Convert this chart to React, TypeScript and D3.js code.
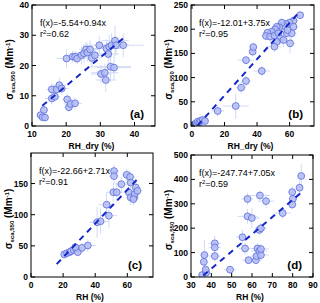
import * as d3 from 'd3'

// ---- panel (a): RH_dry vs sigma_sca,550
const aX = [12.5, 13.1, 13.8, 13.5, 15.8, 15.8, 16.7, 17.2, 18.0, 18.7, 20.1, 20.3, 20.8, 21.3, 22.6, 21.9, 22.6, 23.2, 24.5, 25.2, 25.8, 26.2, 27.0, 27.5, 28.4, 29.7, 30.2, 31.3, 31.6, 31.8, 32.3, 32.6, 33.3, 33.0, 34.0, 34.3, 34.6, 36.7]
const aY = [3.6, 2.9, 2.8, 5.3, 12.1, 9.1, 9.7, 12.1, 13.5, 12.4, 22.3, 8.8, 6.2, 7.3, 7.5, 22.9, 22.9, 22.3, 23.4, 24.0, 25.3, 24.3, 25.3, 22.5, 23.4, 26.7, 17.2, 17.6, 15.2, 25.6, 23.8, 26.2, 26.7, 19.6, 19.3, 28.2, 26.7, 26.7]
const aXErr = [1, 1, 1, 1, 1.5, 2, 1.5, 2, 2, 2, 3, 1.5, 1.5, 2, 2, 2, 2, 2, 3, 3, 2, 3, 3, 3, 3, 4, 3, 4, 3, 4, 3, 4, 5, 6, 5, 4, 3, 6]
const aYErr = [1.5, 1, 1, 1.5, 2, 2, 1.5, 2, 2.5, 2, 3, 2, 1.5, 1.5, 2, 2, 2, 2, 3, 3, 2.5, 3, 3, 3, 2, 3, 3, 3, 4, 3, 3, 4, 4, 5, 4, 5, 3, 4]

// ---- panel (b)
const bX = [0.8, 1.4, 2.5, 2.9, 3.5, 4.5, 5.3, 6.6, 8, 15.8, 26.9, 30.2, 33.2, 33.2, 37.3, 37.7, 42.9, 66.5, 62.4, 59.9, 57.8, 56.2, 55.2, 53.7, 52.1, 51.1, 49, 46.4, 45.5, 48, 50.7, 53.1, 54.2, 52.1, 50.7, 56.2, 58.3, 61.3, 60.3, 58.7, 62.4]
const bY = [2, 3.4, 5.5, 1.4, 9, 7, 11, 12.4, 10.3, 31, 41.3, 79.2, 93, 136, 153.6, 163, 113.6, 229, 217.6, 213.5, 210.7, 206.6, 213.5, 204, 205, 199.7, 194.9, 192.8, 186, 184.6, 186.6, 191.7, 181, 174, 164, 177.7, 191.7, 191.7, 170.8, 198, 205]
const bXErr = [1, 1, 1, 1, 1, 1.5, 1.5, 1.5, 2, 4, 8, 3, 3, 5, 2, 2, 5, 2, 3, 3, 3, 3, 3, 3, 3, 3, 3, 3, 3, 3, 3, 3, 3, 3, 4, 3, 3, 3, 3, 3, 3]
const bYErr = [2, 2, 3, 2, 3, 3, 4, 4, 4, 12, 26, 12, 12, 8, 10, 10, 10, 6, 8, 8, 8, 8, 10, 8, 8, 10, 8, 8, 8, 10, 10, 10, 12, 12, 12, 15, 15, 15, 20, 10, 10]

// ---- panel (c): RH vs sigma
const cX = [20.7, 22.4, 24.1, 24.9, 26.6, 28.2, 29.1, 27.6, 31.8, 35.4, 41.2, 43.3, 47.1, 48.5, 51.3, 53.4, 51.7, 51.7, 56.3, 59.6, 61.7, 62.1, 61, 62.1, 64.2, 64.6, 65.3, 66.3, 63.8]
const cY = [36.2, 38.3, 39.9, 41.5, 43.6, 45.2, 39.9, 47.9, 46.8, 50.5, 87.8, 89.4, 116, 98.4, 136, 136, 170, 162, 149, 164, 160.6, 151.6, 135.6, 127.7, 127.7, 133, 143.6, 138.3, 125]
const cXErr = [2, 2, 2, 3, 3, 3, 3, 3, 4, 5, 5, 5, 5, 5, 4, 4, 3, 3, 4, 3, 3, 3, 3, 3, 3, 3, 3, 3, 3]
const cYErr = [4, 4, 4, 5, 5, 6, 6, 6, 8, 10, 25, 20, 20, 20, 15, 15, 10, 12, 12, 10, 10, 10, 12, 12, 10, 10, 10, 10, 10]

// ---- panel (d)
const dX = [35.5, 37.5, 37.2, 36.3, 36.6, 41.7, 41.7, 41.7, 49.2, 55.3, 56.6, 58.3, 57.8, 57.8, 59.9, 61.9, 62.2, 62.7, 63.6, 64.4, 64.4, 63.9, 63.6, 64.4, 66.9, 75.1, 79.8, 80.1, 79.8, 83.4, 84.2]
const dY = [8, 18, 30, 62, 90, 138, 121.5, 85.6, 30, 163, 117, 69, 320, 248.6, 241.7, 69, 85.6, 117, 106, 90, 114.6, 334, 193, 200, 311, 262, 348, 320, 297, 366, 414]
const dXErr = [2, 2, 2, 2, 2, 3, 3, 3, 3, 3, 3, 3, 3, 5, 4, 3, 3, 4, 4, 4, 4, 5, 3, 3, 4, 4, 2, 2, 2, 2, 2]
const dYErr = [15, 20, 25, 20, 60, 30, 30, 20, 15, 30, 25, 15, 25, 30, 40, 15, 15, 20, 20, 20, 20, 20, 20, 20, 30, 25, 25, 25, 20, 30, 50]

// fit results printed on each panel
const fits = [
  { a: -5.54, b: 0.94, r2: '0.62', from: 13, to: 37 },
  { a: -12.01, b: 3.75, r2: '0.95', from: 3.5, to: 66.5 },
  { a: -22.66, b: 2.71, r2: '0.91', from: 16, to: 66 },
  { a: -247.74, b: 7.05, r2: '0.59', from: 36, to: 84 },
]

const FONT = 'Liberation Sans, Arial, Helvetica, sans-serif'
const MARK_FILL = '#b4bdf4'
const MARK_STROKE = '#6676dc'
const ERR_COLOR = '#cfdaf3'
const FIT_COLOR = '#1428c8'

type PanelProps = {
  id: string
  left: number
  right: number
  top: number
  bottom: number
  xDomain: [number, number]
  yDomain: [number, number]
  xTicks: number[]
  yTicks: number[]
  xs: number[]
  ys: number[]
  xErr: number[]
  yErr: number[]
  fit: { a: number; b: number; r2: string; from: number; to: number }
  xLabel: string
}

const Panel = (p: PanelProps) => {
  const x = d3.scaleLinear().domain(p.xDomain).range([p.left, p.right])
  const y = d3.scaleLinear().domain(p.yDomain).range([p.bottom, p.top])
  const tl = 4
  const fitLine = d3.line<number>()
    .x(v => x(v))
    .y(v => y(p.fit.a + p.fit.b * v))
  const sign = (n: number) => (n < 0 ? '-' + Math.abs(n).toFixed(2) : n.toFixed(2))
  const midY = (p.top + p.bottom) / 2 + 4
  const midX = (p.left + p.right) / 2 - 2

  return (
    <g>
      <defs>
        <clipPath id={'clip-' + p.id}>
          <rect x={p.left} y={p.top} width={p.right - p.left} height={p.bottom - p.top} />
        </clipPath>
      </defs>
      <g clipPath={`url(#clip-${p.id})`}>
        {/* error bars */}
        {p.xs.map((v, i) => (
          <g key={'e' + i} stroke={ERR_COLOR} strokeWidth={1}>
            <line x1={x(v - p.xErr[i])} x2={x(v + p.xErr[i])} y1={y(p.ys[i])} y2={y(p.ys[i])} />
            <line x1={x(v)} x2={x(v)} y1={y(p.ys[i] - p.yErr[i])} y2={y(p.ys[i] + p.yErr[i])} />
          </g>
        ))}
        {p.xs.map((v, i) => (
          <circle key={'c' + i} cx={x(v)} cy={y(p.ys[i])} r={3.4}
            fill={MARK_FILL} fillOpacity={0.85} stroke={MARK_STROKE} strokeWidth={0.9} />
        ))}
        <path d={fitLine([p.fit.from, p.fit.to]) || ''} fill="none"
          stroke={FIT_COLOR} strokeWidth={2} strokeDasharray="6,5" />
      </g>
      {/* frame */}
      <rect x={p.left} y={p.top} width={p.right - p.left} height={p.bottom - p.top}
        fill="none" stroke="#000" strokeWidth={1} />
      {p.xTicks.map(t => (
        <g key={'xt' + t}>
          <line x1={x(t)} x2={x(t)} y1={p.bottom} y2={p.bottom - tl} stroke="#000" />
          <line x1={x(t)} x2={x(t)} y1={p.top} y2={p.top + tl} stroke="#000" />
          <text x={x(t)} y={p.bottom + 11} textAnchor="middle" fontSize={8.5}
            fontWeight="bold" fontFamily={FONT}>{t}</text>
        </g>
      ))}
      {p.yTicks.map(t => (
        <g key={'yt' + t}>
          <line x1={p.left} x2={p.left + tl} y1={y(t)} y2={y(t)} stroke="#000" />
          <line x1={p.right} x2={p.right - tl} y1={y(t)} y2={y(t)} stroke="#000" />
          <text x={p.left - 3} y={y(t) + 3} textAnchor="end" fontSize={8.5}
            fontWeight="bold" fontFamily={FONT}>{t}</text>
        </g>
      ))}
      <text x={midX} y={p.bottom + 23} textAnchor="middle" fontSize={8.5}
        fontWeight="bold" fontFamily={FONT}>{p.xLabel}</text>
      <text transform={`translate(${p.left - 19},${midY}) rotate(-90)`} textAnchor="middle"
        fontSize={10} fontWeight="bold" fontFamily={FONT}>
        σ<tspan fontSize={6} dy={2}>sca,550</tspan>
        <tspan dy={-2}> (Mm</tspan>
        <tspan fontSize={6} dy={-3.5}>-1</tspan>
        <tspan dy={3.5}>)</tspan>
      </text>
      <text x={p.left + 8} y={p.top + 21} fontSize={9} fontFamily={FONT}>
        {`f(x)=${sign(p.fit.a)}+${p.fit.b.toFixed(2)}x`}
      </text>
      <text x={p.left + 8} y={p.top + 32} fontSize={9} fontFamily={FONT}>
        r<tspan fontSize={6} dy={-3.5}>2</tspan><tspan dy={3.5}>={p.fit.r2}</tspan>
      </text>
      <text x={p.right - 11} y={p.bottom - 8} textAnchor="end" fontSize={11.5}
        fontWeight="bold" fontFamily={FONT}>({p.id})</text>
    </g>
  )
}

export default function App() {
  return (
    <svg width={320} height={303} style={{ position: 'absolute', left: 0, top: 0, background: '#fff' }}>
      <Panel id="a" left={32} right={155} top={5} bottom={126}
        xDomain={[10, 46]} yDomain={[0, 40]} xTicks={[10, 20, 30, 40]} yTicks={[0, 10, 20, 30, 40]}
        xs={aX} ys={aY} xErr={aXErr} yErr={aYErr} fit={fits[0]} xLabel="RH_dry (%)" />
      <Panel id="b" left={191} right={314} top={5} bottom={126}
        xDomain={[-0.6, 75]} yDomain={[0, 250]} xTicks={[0, 20, 40, 60]} yTicks={[0, 50, 100, 150, 200, 250]}
        xs={bX} ys={bY} xErr={bXErr} yErr={bYErr} fit={fits[1]} xLabel="RH_dry (%)" />
      <Panel id="c" left={31} right={153} top={153} bottom={277}
        xDomain={[0, 76]} yDomain={[0, 199]} xTicks={[0, 20, 40, 60]} yTicks={[0, 50, 100, 150]}
        xs={cX} ys={cY} xErr={cXErr} yErr={cYErr} fit={fits[2]} xLabel="RH (%)" />
      <Panel id="d" left={191} right={313} top={155} bottom={277}
        xDomain={[30, 90]} yDomain={[0, 500]} xTicks={[30, 40, 50, 60, 70, 80, 90]} yTicks={[0, 100, 200, 300, 400, 500]}
        xs={dX} ys={dY} xErr={dXErr} yErr={dYErr} fit={fits[3]} xLabel="RH (%)" />
    </svg>
  )
}
